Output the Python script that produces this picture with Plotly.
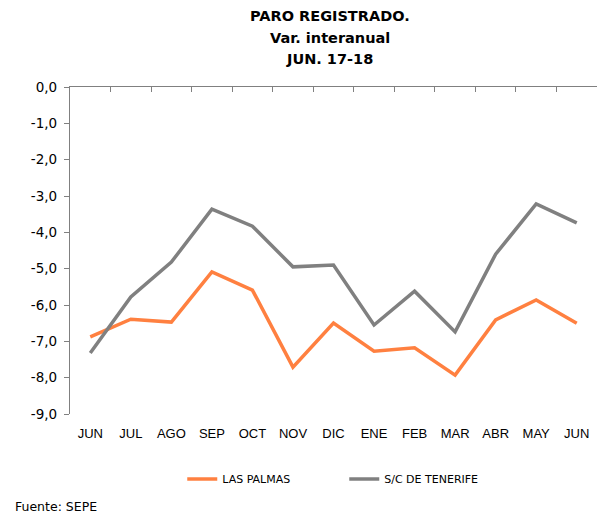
import plotly.graph_objects as go

months = ["JUN", "JUL", "AGO", "SEP", "OCT", "NOV", "DIC", "ENE", "FEB", "MAR", "ABR", "MAY", "JUN"]
las_palmas = [-6.88, -6.39, -6.47, -5.09, -5.59, -7.71, -6.50, -7.27, -7.18, -7.93, -6.41, -5.86, -6.50]
tenerife = [-7.32, -5.78, -4.82, -3.36, -3.83, -4.95, -4.90, -6.55, -5.62, -6.74, -4.60, -3.22, -3.74]
y_ticks = [0, -1, -2, -3, -4, -5, -6, -7, -8, -9]
y_labels = [f"{v:.1f}".replace(".", ",") for v in y_ticks]
title_lines = ["PARO REGISTRADO.", "Var. interanual", "JUN. 17-18"]

x = list(range(len(months)))
lib = "Liberation Sans, Arial, sans-serif"
dej = "DejaVu Sans, Verdana, sans-serif"

fig = go.Figure()
fig.add_trace(go.Scatter(x=x, y=las_palmas, mode="lines", name="LAS PALMAS",
                         line=dict(color="#FF8040", width=3.5)))
fig.add_trace(go.Scatter(x=x, y=tenerife, mode="lines", name="S/C DE TENERIFE",
                         line=dict(color="#808080", width=3.5)))
fig.add_trace(go.Scatter(x=[0], y=[None], xaxis="x2", showlegend=False, hoverinfo="skip"))

annotations = []
for txt, yy in zip(title_lines, [1.217, 1.150, 1.086]):
    annotations.append(dict(text=f"<b>{txt}</b>", xref="paper", yref="paper", x=0.493, y=yy,
                            xanchor="center", yanchor="middle", showarrow=False,
                            font=dict(size=14.5, family=dej, color="#000000")))
annotations.append(dict(text="Fuente: SEPE", xref="paper", yref="paper", x=-0.109, y=-0.284,
                        xanchor="left", yanchor="middle", showarrow=False,
                        font=dict(size=12.5, family=dej, color="#000000")))

fig.update_layout(
    width=597, height=514,
    paper_bgcolor="white", plot_bgcolor="white",
    margin=dict(l=62, r=8, t=79, b=108),
    font=dict(family=lib, color="#000000"),
    showlegend=True,
    xaxis=dict(range=[-0.5, 12.5], tickvals=x, ticktext=months, showline=False,
               showgrid=False, zeroline=False, ticks="", ticklabelstandoff=10,
               tickfont=dict(size=13, family=lib, color="#000000"), fixedrange=True),
    xaxis2=dict(range=[-0.5, 12.5], overlaying="x", side="top", showline=True,
                linecolor="#808080", linewidth=1.3, showgrid=False, zeroline=False,
                tickvals=[i - 0.5 for i in range(len(months) + 1)], ticks="inside",
                ticklen=5, tickcolor="#808080", showticklabels=False),
    yaxis=dict(range=[-9, 0], tickvals=y_ticks, ticktext=y_labels, showline=True,
               linecolor="#808080", linewidth=1.3, ticks="outside", ticklen=5,
               tickcolor="#808080", showgrid=False, zeroline=False, ticklabelstandoff=4,
               tickfont=dict(size=13.5, family=dej, color="#000000")),
    legend=dict(orientation="h", x=0.213, xanchor="left", y=-0.199, yanchor="middle",
                font=dict(size=11, family=dej, color="#000000"), entrywidth=117,
                itemwidth=30, bgcolor="rgba(0,0,0,0)"),
    annotations=annotations,
)

fig.write_html("out.html")
